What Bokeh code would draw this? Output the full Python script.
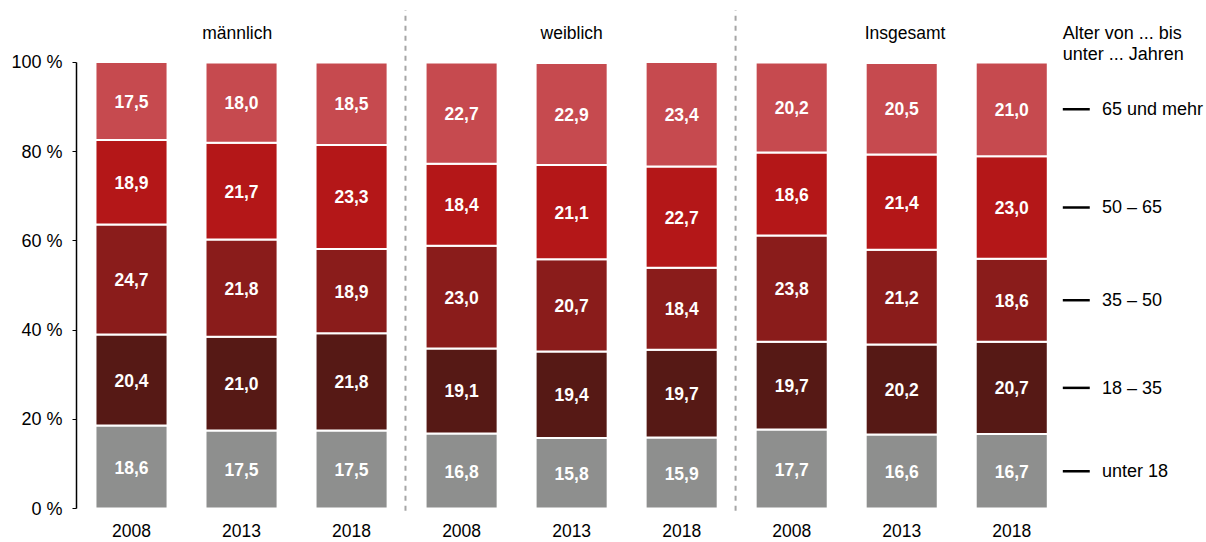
from bokeh.plotting import figure
from bokeh.models import ColumnDataSource, Range1d, FixedTicker
from bokeh.core.properties import value
from bokeh.embed import file_html
from bokeh.resources import INLINE

groups = ["männlich", "weiblich", "Insgesamt"]
years = ["2008", "2013", "2018"]
age_groups = ["unter 18", "18 – 35", "35 – 50", "50 – 65", "65 und mehr"]
colors = ["#8e8f8e", "#561915", "#8a1c1b", "#b41718", "#c64a4f"]

unter18 = [18.6, 17.5, 17.5, 16.8, 15.8, 15.9, 17.7, 16.6, 16.7]
a18_35 = [20.4, 21.0, 21.8, 19.1, 19.4, 19.7, 19.7, 20.2, 20.7]
a35_50 = [24.7, 21.8, 18.9, 23.0, 20.7, 18.4, 23.8, 21.2, 18.6]
a50_65 = [18.9, 21.7, 23.3, 18.4, 21.1, 22.7, 18.6, 21.4, 23.0]
a65plus = [17.5, 18.0, 18.5, 22.7, 22.9, 23.4, 20.2, 20.5, 21.0]

series = [unter18, a18_35, a35_50, a50_65, a65plus]
keys = ["s0", "s1", "s2", "s3", "s4"]
xs = list(range(9))

data = {"x": xs}
for k, s in zip(keys, series):
    data[k] = s
src = ColumnDataSource(data)

FONT = "Liberation Sans"
FS = "17.5px"

p = figure(width=1206, height=542, output_backend="svg", toolbar_location=None,
           x_range=Range1d(-0.5, 9.77), y_range=Range1d(-7.62, 113.9),
           min_border_left=76, min_border_right=0, min_border_top=0, min_border_bottom=0)
p.outline_line_color = None
p.grid.visible = False
p.xaxis.visible = False

yax = p.yaxis[0]
yax.bounds = (0, 100)
yax.ticker = FixedTicker(ticks=[0, 20, 40, 60, 80, 100])
yax.major_label_overrides = {t: f"{t} %" for t in [0, 20, 40, 60, 80, 100]}
yax.major_label_text_font = FONT
yax.major_label_text_font_size = "18px"
yax.major_label_text_color = "#000000"
yax.axis_line_color = "#000000"
yax.axis_line_width = 1.5
yax.major_tick_line_color = "#000000"
yax.major_tick_out = 4
yax.major_tick_in = 0
yax.minor_tick_line_color = None
yax.major_label_standoff = 10

p.vbar_stack(keys, x="x", width=0.655, color=colors, line_color="white",
             line_width=2, source=src)

# value labels
lx, ly, lt = [], [], []
for i in xs:
    base = 0.0
    for s in series:
        v = s[i]
        lx.append(i)
        ly.append(base + v / 2)
        lt.append(f"{v:.1f}".replace(".", ","))
        base += v
p.text(x=lx, y=ly, text=lt, text_color="white", text_font=value(FONT),
       text_font_size=FS, text_font_style="bold", text_align="center",
       text_baseline="middle")

# year labels
p.text(x=xs, y=[-4.9] * 9, text=years * 3, text_color="black", text_font=value(FONT),
       text_font_size=FS, text_align="center", text_baseline="middle")

# group labels
p.text(x=[0.96, 4.0, 7.03], y=[106.7] * 3, text=groups, text_color="black",
       text_font=value(FONT), text_font_size=FS, text_align="center",
       text_baseline="middle")

# separators
for sx in [2.49, 5.49]:
    p.segment(x0=[sx], y0=[-0.5], x1=[sx], y1=[111.7], line_color="#a6a6a6",
              line_width=2, line_dash="5 5")

# legend
p.text(x=[8.464, 8.464], y=[106.7, 102.0], text=["Alter von ... bis", "unter ... Jahren"],
       text_color="black", text_font=value(FONT), text_font_size="18px",
       text_align="left", text_baseline="middle")
leg_y = []
base = 0.0
for s in series:
    leg_y.append(base + s[8] / 2)
    base += s[8]
p.segment(x0=[8.464] * 5, y0=leg_y, x1=[8.709] * 5, y1=leg_y, line_color="black",
          line_width=2.5)
p.text(x=[8.82] * 5, y=leg_y, text=age_groups, text_color="black", text_font=value(FONT),
       text_font_size="18px", text_align="left", text_baseline="middle")

open("out.html", "w").write(file_html(p, INLINE))
